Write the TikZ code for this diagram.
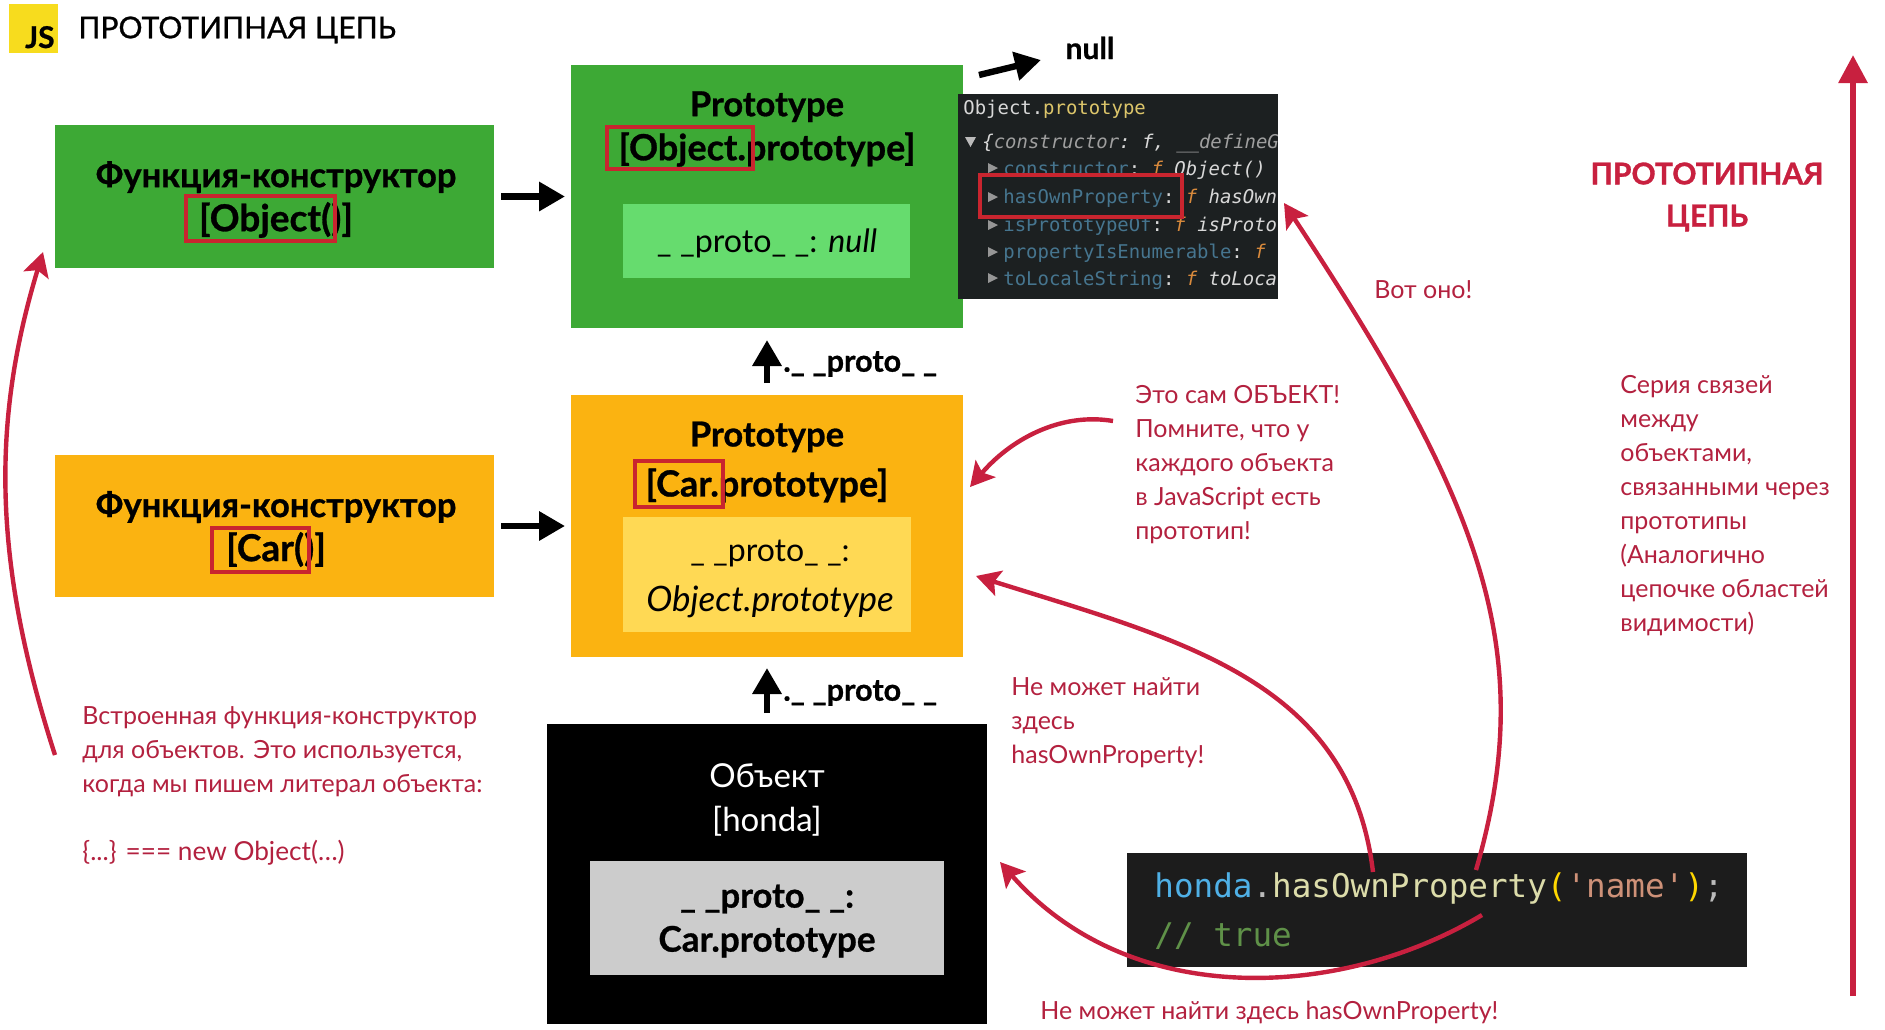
\documentclass[tikz,border=0pt]{standalone}
\usepackage{fontspec}
\usetikzlibrary{arrows.meta}
\setmainfont{Lato}
\setmonofont{DejaVu Sans Mono}
\newfontfamily\titlefont[FakeBold=1]{Lato}
\newfontfamily\heavyfont[BoldFeatures={FakeBold=0.8}]{Lato}
\definecolor{greenbox}{HTML}{3DA935}
\definecolor{greenin}{HTML}{66DC6E}
\definecolor{yelbox}{HTML}{FBB311}
\definecolor{yelin}{HTML}{FFD954}
\definecolor{greyin}{HTML}{CCCCCC}
\definecolor{jsyel}{HTML}{F7DC1E}
\definecolor{redline}{HTML}{C8203F}
\definecolor{redbox}{HTML}{C9252F}
\definecolor{redtext}{HTML}{B3213F}
\definecolor{shotbg}{HTML}{1C2021}
\definecolor{codebg}{HTML}{1C1C1C}
\definecolor{keyblue}{HTML}{46758F}
\definecolor{keywhite}{HTML}{D8D8D8}
\definecolor{forange}{HTML}{D98A3C}
\definecolor{protoy}{HTML}{DCC56A}
\definecolor{cblue}{HTML}{4FB0E6}
\definecolor{cfunc}{HTML}{DCDCAA}
\definecolor{cbr}{HTML}{FFD700}
\definecolor{cstr}{HTML}{CE9178}
\definecolor{ccom}{HTML}{5F9148}
\definecolor{cdot}{HTML}{BBBBBB}
\tikzset{
  x=0.5pt,y=-0.5pt,
  box/.style n args={3}{fill=#1,draw=none,inner sep=0pt,outer sep=0pt,anchor=north west,minimum width=#2*0.5pt,minimum height=#3*0.5pt},
  boxtext/.style={inner sep=0pt,align=center,font=\fontsize{17.25}{22}\selectfont\heavyfont\bfseries,text=black},
  redframe/.style={draw=redbox,line width=2pt,fill=none},
  blackarrow/.style={draw=black,line width=3.2pt,-{Triangle[length=13pt,width=14pt]}},
  redarrow/.style={draw=redline,line width=2.2pt,-{Stealth[length=12pt,width=13pt,inset=2.5pt]}},
  note/.style={inner sep=0pt,anchor=north west,align=left,text=redtext,font=\fontsize{12.5}{17}\selectfont},
  protolabel/.style={inner sep=0pt,anchor=west,font=\fontsize{15.3}{17}\selectfont\heavyfont\bfseries,text=black},
  shotline/.style={inner sep=0pt,anchor=base west,font=\fontsize{9.47}{11}\selectfont\ttfamily,text=keyblue},
  tri/.style={fill=#1,draw=none},
}
\begin{document}
\begin{tikzpicture}
\useasboundingbox (0,0) rectangle (1885,1029);
% header
\node[box={jsyel}{49}{49}] (jslogo) at (9,4) {};
\node[inner sep=0pt,anchor=base east,font=\fontsize{15}{16}\selectfont\heavyfont\bfseries] (jstext) at (55,48) {JS};
\node[inner sep=0pt,anchor=west,font=\fontsize{15}{18}\selectfont\titlefont] (title) at (78,30) {ПРОТОТИПНАЯ ЦЕПЬ};
% constructor boxes
\node[box={greenbox}{439}{143}] (fobj) at (55,125) {};
\node[boxtext] (fobjt) at (276,199.5) {Функция-конструктор\\{\fontsize{18.5}{22}\selectfont [Object()]}};
\node[box={yelbox}{439}{142}] (fcar) at (55,455) {};
\node[boxtext] (fcart) at (276,529) {Функция-конструктор\\{\fontsize{18.5}{22}\selectfont [Car()]}};
% prototype boxes
\node[box={greenbox}{392}{263}] (pobj) at (571,65) {};
\node[boxtext] (pobjt) at (767,129) {Prototype\\{\fontsize{18}{22}\selectfont [Object.prototype]}};
\node[box={greenin}{287}{74}] (pobjin) at (623,204) {};
\node[inner sep=0pt,font=\fontsize{16.1}{18}\selectfont] (pobjint) at (767,243) {\_ \_proto\_ \_: \textit{null}};
\node[box={yelbox}{392}{262}] (pcar) at (571,395) {};
\node[boxtext,font=\fontsize{17.25}{25}\selectfont\heavyfont\bfseries] (pcart) at (767,462) {Prototype\\{\fontsize{18}{22}\selectfont [Car.prototype]}};
\node[box={yelin}{288}{115}] (pcarin) at (623,517) {};
\node[inner sep=0pt,align=center,font=\fontsize{16}{25}\selectfont] (pcarint) at (770,579) {\_ \_proto\_ \_:\\{\fontsize{17.5}{25}\selectfont\itshape Object.prototype}};
% honda object
\node[box={black}{440}{300}] (honda) at (547,724) {};
\node[inner sep=0pt,align=center,text=white,font=\fontsize{16.5}{22}\selectfont] (hondat) at (767,800) {Объект\\{[honda]}};
\node[box={greyin}{354}{114}] (hondain) at (590,861) {};
\node[boxtext] (hondaint) at (767,921) {\_ \_proto\_ \_:\\{\fontsize{17.6}{22}\selectfont Car.prototype}};
% red frames round parts of the titles
\node[box={none}{149}{45},redframe] (fr1) at (186,196) {};
\node[box={none}{97}{44},redframe] (fr2) at (212,528) {};
\node[box={none}{146}{42},redframe] (fr3) at (607,127) {};
\node[box={none}{88}{46},redframe] (fr4) at (635,461) {};
% black arrows
\draw[blackarrow,shorten <=3.5pt,shorten >=3pt] (fobj.east) -- (pobj.west);
\draw[blackarrow,shorten <=3.5pt,shorten >=3pt] (fcar.east) -- (pcar.west);
\draw[blackarrow,shorten <=6pt,shorten >=6pt] (pcar.north) -- (pobj.south);
\draw[blackarrow,shorten <=5.5pt,shorten >=5.5pt] (honda.north) -- (pcar.south);
\node[protolabel] (lab1) at (783,364) {.\_ \_proto\_ \_};
\node[protolabel] (lab2) at (783,693) {.\_ \_proto\_ \_};
\coordinate (nullfrom) at (979,75);
\coordinate (nullto) at (1041,60);
\draw[blackarrow] (nullfrom) -- (nullto);
\node[inner sep=0pt,font=\fontsize{15}{18}\selectfont\heavyfont\bfseries] (nulltext) at (1090,48) {null};
% devtools screenshot
\node[box={shotbg}{320}{205}] (shot) at (958,94) {};
\begin{scope}
\clip (958,94) rectangle (1278,299);
\node[shotline,text=keywhite] (s0) at (963,114) {Object.\textcolor{protoy}{prototype}};
\node[shotline,text=keywhite] (s1) at (982,148) {\itshape\{\textcolor{cdot!85!black}{constructor}: f, \textcolor{cdot!85!black}{\_\_defineG}};
\node[shotline] (s2) at (1003,175) {constructor\textcolor{keywhite}{: \textcolor{forange}{\itshape f} \itshape Object()}};
\node[shotline] (s3) at (1003,203) {hasOwnProperty\textcolor{keywhite}{: \textcolor{forange}{\itshape f} \itshape hasOwn}};
\node[shotline] (s4) at (1003,231) {isPrototypeOf\textcolor{keywhite}{: \textcolor{forange}{\itshape f} \itshape isProto}};
\node[shotline] (s5) at (1003,258) {propertyIsEnumerable\textcolor{keywhite}{: \textcolor{forange}{\itshape f}}};
\node[shotline] (s6) at (1003,285) {toLocaleString\textcolor{keywhite}{: \textcolor{forange}{\itshape f} \itshape toLoca}};
\end{scope}
\fill[tri=cdot] (965,137) -- (976,137) -- (970.5,147) -- cycle;
\foreach \yy in {168,197,225,252,278} {\fill[tri=cdot!80!black] (988,\yy-5) -- (998,\yy) -- (988,\yy+5) -- cycle;}
\node[box={none}{202}{42},redframe] (fr5) at (980,175) {};
% code
\node[box={codebg}{620}{114}] (code) at (1127,853) {};
\node[inner sep=0pt,anchor=base west,font=\fontsize{16.3}{20}\selectfont\ttfamily] (code1) at (1154,897) {\textcolor{cblue}{honda}\textcolor{cdot}{.}\textcolor{cfunc}{hasOwnProperty}\textcolor{cbr}{(}\textcolor{cstr}{'name'}\textcolor{cbr}{)}\textcolor{cdot}{;}};
\node[inner sep=0pt,anchor=base west,font=\fontsize{16.3}{20}\selectfont\ttfamily,text=ccom] (code2) at (1154,946) {// true};
% red curves
\coordinate (a1) at (55,755);
\coordinate (a2) at (43,252);
\draw[redarrow] (a1) .. controls (-8,560) and (-8,420) .. (a2);
\coordinate (b1) at (1113,421);
\coordinate (b2) at (970,487);
\draw[redarrow] (b1) .. controls (1060,412) and (1010,440) .. (b2);
\coordinate (c1) at (1373,872);
\coordinate (c2) at (976,576);
\draw[redarrow] (c1) .. controls (1350,680) and (1180,640) .. (c2);
\coordinate (d1) at (1476,870);
\coordinate (d2) at (1284,203);
\draw[redarrow] (d1) .. controls (1540,650) and (1480,500) .. (d2);
\coordinate (e1) at (1482,915);
\coordinate (e2) at (1000,862);
\draw[redarrow] (e1) .. controls (1340,1000) and (1130,1010) .. (e2);
\coordinate (f1) at (1853,996);
\coordinate (f2) at (1853,55);
\draw[redarrow,-{Triangle[length=14pt,width=14pt]},line width=3pt] (f1) -- (f2);
% notes
\node[inner sep=0pt,align=center,text=redline,font=\fontsize{15}{21}\selectfont\titlefont\bfseries] (chain) at (1707,197) {ПРОТОТИПНАЯ\\ЦЕПЬ};
\node[note,anchor=west] (n1) at (1374,290) {Вот оно!};
\node[note,anchor=north west] (n2) at (1135,385) {Это сам ОБЪЕКТ!\\Помните, что у\\каждого объекта\\в JavaScript есть\\прототип!};
\node[note] (n3) at (1620,375) {Серия связей\\между\\объектами,\\связанными через\\прототипы\\(Аналогично\\цепочке областей\\видимости)};
\node[note] (n4) at (1011,677) {Не может найти\\здесь\\hasOwnProperty!};
\node[note,anchor=west] (n5) at (1040,1012) {Не может найти здесь hasOwnProperty!};
\node[note] (n6) at (82,706) {Встроенная функция-конструктор\\для объектов. Это используется,\\когда мы пишем литерал объекта:\\[17pt]{\fontsize{13.1}{17}\selectfont \{...\} === new Object(…)}};
\end{tikzpicture}
\end{document}
